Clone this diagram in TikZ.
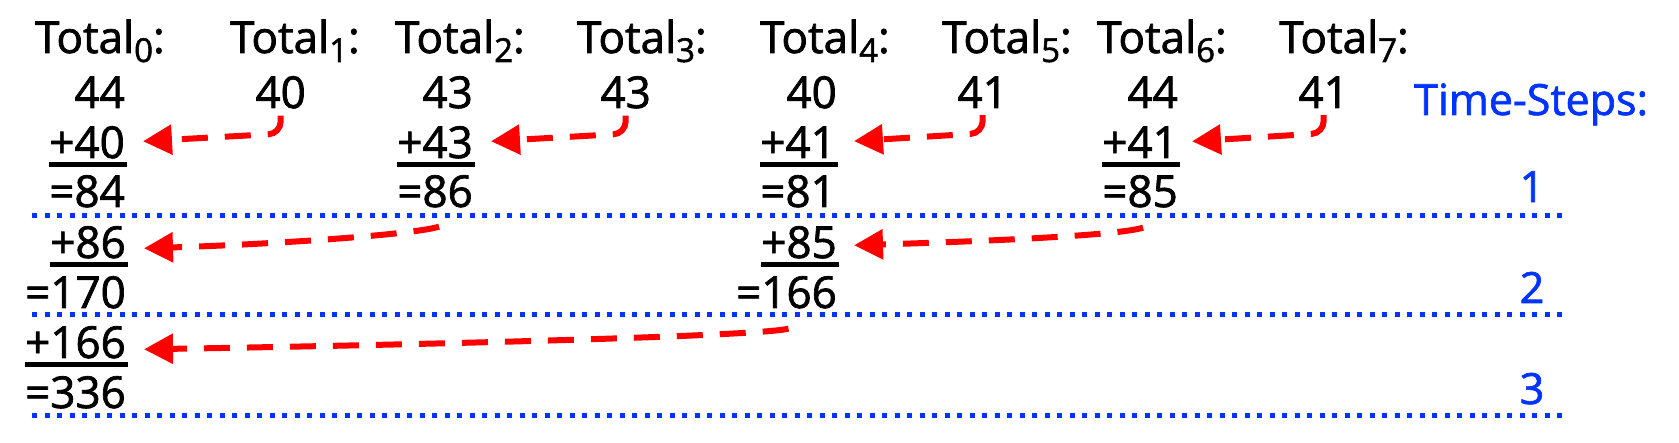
\documentclass[tikz,border=0pt]{standalone}
\usepackage{fontspec}
\setmainfont{Open Sans}[FakeBold=1.6,AutoFakeBold=false]
\usetikzlibrary{arrows.meta,calc}
\definecolor{tsblue}{RGB}{0,51,255}
\definecolor{tsred}{RGB}{255,0,0}
\newcommand\TotSub[1]{Total\raisebox{-9pt}{\fontsize{33}{33}\selectfont #1}:}
\begin{document}
\begin{tikzpicture}[x=1pt,y=-1pt,
 txt/.style={inner sep=0pt, font=\fontsize{44}{44}\selectfont},
 num/.style={txt, anchor=base east},
 lbl/.style={txt, anchor=base west},
 blu/.style={inner sep=0pt, font=\fontsize{43}{43}\selectfont, text=tsblue},
 uline/.style={line width=5pt},
 sepline/.style={tsblue, line width=5pt, dash pattern=on 5pt off 7.5pt},
 redarr/.style={tsred, line width=6pt, dash pattern=on 26pt off 17pt, -{Triangle[length=29pt,width=29pt]}},
]
\useasboundingbox (0,0) rectangle (1679,443);
% header labels
\node[lbl] (t0) at (35,53) {\TotSub{0}};
\node[lbl] (t1) at (230,53) {\TotSub{1}};
\node[lbl] (t2) at (395,53) {\TotSub{2}};
\node[lbl] (t3) at (577,53) {\TotSub{3}};
\node[lbl] (t4) at (760,53) {\TotSub{4}};
\node[lbl] (t5) at (942,53) {\TotSub{5}};
\node[lbl] (t6) at (1097,53) {\TotSub{6}};
\node[lbl] (t7) at (1279,53) {\TotSub{7}};
% values
\node[num] (v0) at (125,108) {44};
\node[num] (v1) at (306,108) {40};
\node[num] (v2) at (473,108) {43};
\node[num] (v3) at (651,108) {43};
\node[num] (v4) at (837,108) {40};
\node[num] (v5) at (1008,108) {41};
\node[num] (v6) at (1178,108) {44};
\node[num] (v7) at (1349,108) {41};
% step 1
\node[num] (p0) at (125,158) {+40};
\node[num] (p2) at (473,158) {+43};
\node[num] (p4) at (836,158) {+41};
\node[num] (p6) at (1178,158) {+41};
\node[num] (e0) at (125,207) {=84};
\node[num] (e2) at (473,207) {=86};
\node[num] (e4) at (836,207) {=81};
\node[num] (e6) at (1178,207) {=85};
% step 2
\node[num] (q0) at (126,258) {+86};
\node[num] (q4) at (837,258) {+85};
\node[num] (f0) at (126,308) {=170};
\node[num] (f4) at (837,308) {=166};
% step 3
\node[num] (r0) at (126,358) {+166};
\node[num] (g0) at (126,408) {=336};
% underlines
\foreach \n in {p0,p2,p4,p6,q0,q4,r0}
  \draw[uline] ($(\n.base west)+(0,7)$) -- ($(\n.base east)+(2,7)$);
% time steps
\node[blu, anchor=base west] (ts) at (1414,115) {Time-Steps:};
\node[blu, anchor=base] (n1) at (1532,202) {1};
\node[blu, anchor=base] (n2) at (1532,303) {2};
\node[blu, anchor=base] (n3) at (1532,404) {3};
% separators
\draw[sepline] (32,216) -- (1563,216);
\draw[sepline] (32,315) -- (1563,315);
\draw[sepline] (32,416) -- (1563,416);
% step 1 arrows
\draw[redarr, shorten <=7pt, shorten >=18pt, rounded corners=12pt] (v1.south) -- ++(0,25) -- (p0.east);
\draw[redarr, shorten <=7pt, shorten >=18pt, rounded corners=12pt] (v3.south) -- ++(0,25) -- (p2.east);
\draw[redarr, shorten <=7pt, shorten >=18pt, rounded corners=12pt] (v5.south) -- ++(0,25) -- (p4.east);
\draw[redarr, shorten <=7pt, shorten >=14pt, rounded corners=12pt] (v7.south) -- ++(0,25) -- (p6.east);
% step 2 arrows
\coordinate (s5) at ($(e2.south)+(4,19)$);
\coordinate (h5) at ($(q0.east)+(18,6)$);
\draw[redarr] (s5) .. controls +(-25,8) and +(130,-4) .. (h5);
\coordinate (s6) at ($(e6.south)+(3,20)$);
\coordinate (h6) at ($(q4.east)+(17,3)$);
\draw[redarr] (s6) .. controls +(-25,8) and +(130,-4) .. (h6);
% step 3 arrow
\coordinate (s7) at ($(f4.south)+(2,20)$);
\coordinate (h7) at ($(r0.east)+(18,7)$);
\draw[redarr] (s7) .. controls +(-30,8) and +(250,-4) .. (h7);
\end{tikzpicture}
\end{document}
